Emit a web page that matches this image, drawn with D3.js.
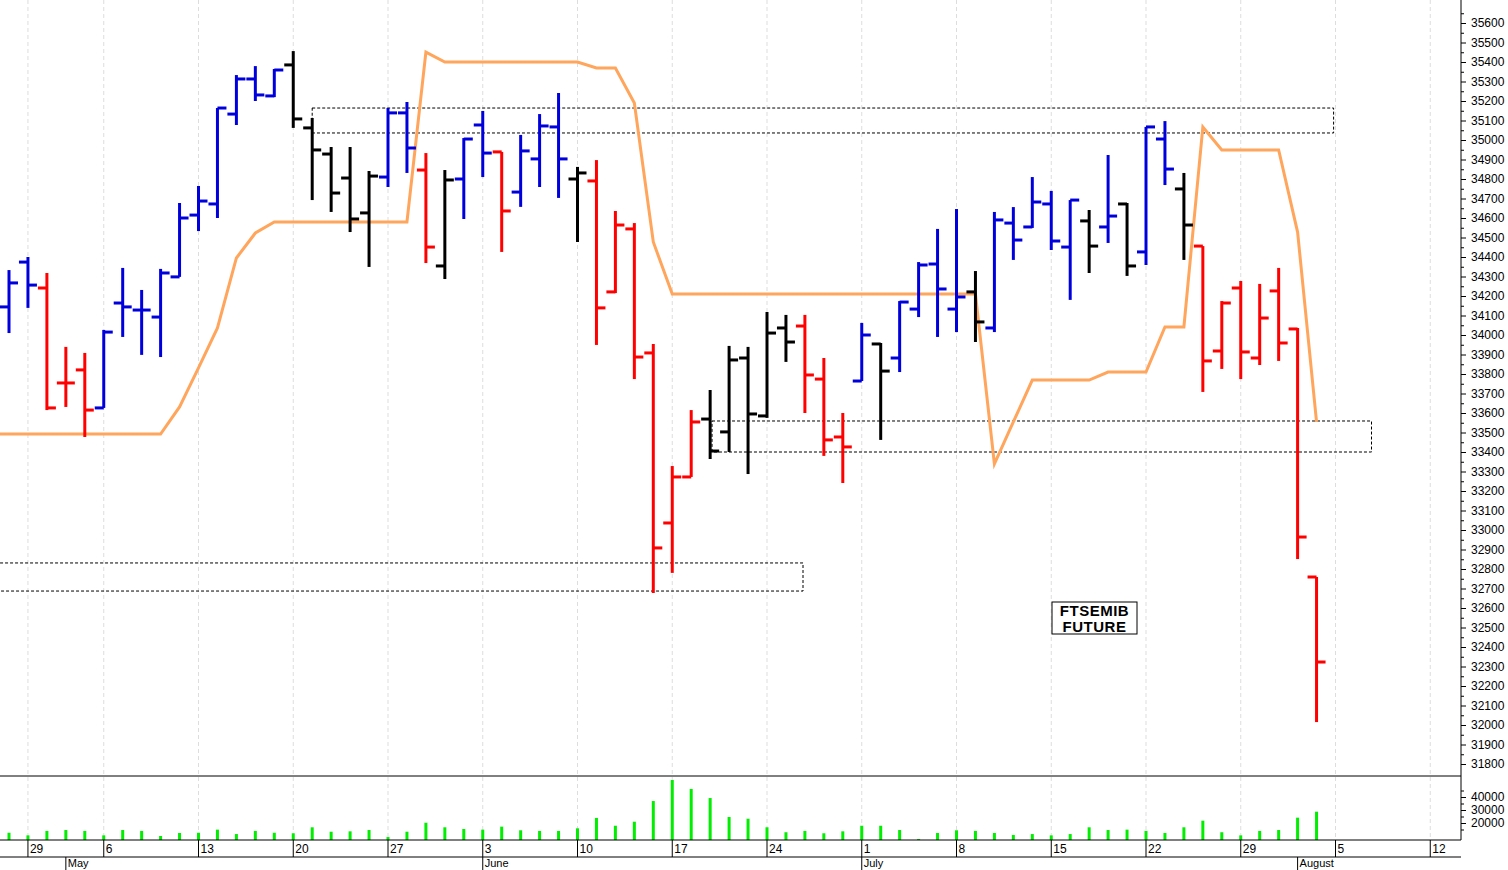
<!DOCTYPE html>
<html><head><meta charset="utf-8">
<script src="https://cdn.jsdelivr.net/npm/d3@7"></script>
<style>body{margin:0;background:#fff}svg{display:block}text{font-family:Arial,"Liberation Sans",sans-serif}</style>
</head><body><svg id="c" width="1508" height="870"></svg>
<script>
const opens=[34144,34374,34241,33754,33821,33626,34164,34128,34092,34298,34615,34672,35133,35313,35226,35385,35062,34928,34805,34626,34810,35139,34846,34354,34800,35077,34939,34733,34903,35067,34800,34790,34221,34544,33908,33036,33272,33569,33503,33882,33585,34036,34046,33774,33477,33764,33954,33882,34133,34364,34133,34221,34036,34574,34554,34672,34451,34585,34554,34672,34426,35005,34749,34456,33918,34241,33882,34226,34031,32759];
const highs=[34333,34400,34318,33939,33908,34026,34344,34231,34339,34677,34764,35164,35333,35379,35364,35456,35113,34964,34964,34841,35164,35195,34933,34846,35010,35149,34939,35026,35133,35241,34862,34897,34636,34574,33954,33328,33615,33718,33944,33939,34118,34103,34103,33882,33600,34062,33959,34174,34374,34544,34646,34328,34631,34656,34810,34739,34692,34641,34923,34677,35067,35097,34831,34456,34174,34277,34262,34344,34036,32759];
const lows=[34010,34139,33615,33631,33477,33626,33990,33898,33887,34298,34533,34600,35077,35200,35220,35062,34692,34631,34528,34349,34759,34831,34369,34287,34595,34810,34426,34657,34759,34703,34477,33949,34215,33774,32677,32780,33272,33364,33400,33287,33575,33862,33600,33380,33241,33764,33462,33810,34092,33990,34015,33964,34015,34385,34549,34436,34180,34318,34472,34303,34359,34769,34385,33708,33826,33774,33846,33867,32851,32015];
const closes=[34267,34256,33626,33754,33615,34015,34144,34128,34318,34600,34687,35164,35313,35231,35359,35108,34949,34728,34595,34815,35139,34959,34451,34795,35005,34933,34636,34944,35072,34903,34831,34139,34564,33887,32908,33272,33554,33405,33872,33595,34010,33964,33795,33462,33426,34000,33815,34169,34359,34236,34195,34067,34590,34487,34682,34482,34692,34456,34610,34354,35067,34851,34564,33867,34164,33913,34087,33959,32964,32323];
const trend="bbrrrbbbbbbbbbbkkkkkbbrkbbrbbbkrrrrrrkkkkkrrrbkbbbbkbbbbbkbkbbkrrrrrrr".split("");
const volumes=[12500,10500,13900,14600,13900,10500,14600,13900,10000,12300,12500,14900,11500,13900,12500,12100,16700,13300,13600,14600,9200,13300,20200,16700,15400,14900,17200,14400,13900,13900,15900,23900,17900,21000,36900,53100,46200,39200,24600,23300,16700,12900,13900,12100,13600,17900,17900,14600,7700,12300,14400,13900,12300,10800,11500,10500,11500,16700,14600,14900,13900,12300,16700,21800,12900,10500,13900,14600,24100,28700];
const stopLine=[33492,33492,33492,33492,33492,33492,33492,33492,33492,33631,33831,34036,34395,34523,34580,34580,34580,34580,34580,34580,34580,34580,35451,35400,35400,35400,35400,35400,35400,35400,35400,35369,35369,35190,34477,34210,34210,34210,34210,34210,34210,34210,34210,34210,34210,34210,34210,34210,34210,34210,34210,34210,33339,33554,33769,33769,33769,33769,33810,33810,33810,34041,34041,35067,34949,34949,34949,34949,34528,33554];
const weekTickIdx=[1,5,10,15,20,25,30,35,40,45,50,55,60,65,70,75];
const weekTickLabels=["29","6","13","20","27","3","10","17","24","1","8","15","22","29","5","12"];
const monthIdx=[3,25,45,68];
const monthLabels=["May","June","July","August"];
const boxes=[{x0:16,x1:69.9,top:35164,bot:35036},{x0:37.1,x1:71.9,top:33559,bot:33400},{x0:-1,x1:41.9,top:32831,bot:32687}];
const priceTicks=d3.range(31800,35601,100);
const volTicks=[20000,30000,40000];

const svg=d3.select("#c");
const W=1461;
const x=d3.scaleLinear().domain([0,69]).range([9,9+69*18.95]);
const y=d3.scaleLinear().domain([31800,35600]).range([764,23]);
const yv=d3.scaleLinear().domain([20000,40000]).range([823,797]);
const colors={b:"#0000dd",r:"#ff0000",k:"#000000"};

svg.append("g").selectAll("line").data(weekTickIdx).join("line")
 .attr("x1",d=>x(d)).attr("x2",d=>x(d)).attr("y1",0).attr("y2",840)
 .attr("stroke","#ddd").attr("stroke-dasharray","4,3");

svg.append("defs").append("clipPath").attr("id","cp").append("rect").attr("x",0).attr("y",0).attr("width",W).attr("height",776);
const main=svg.append("g").attr("clip-path","url(#cp)");

main.selectAll("rect.box").data(boxes).join("rect")
 .attr("x",d=>x(d.x0)).attr("width",d=>x(d.x1)-x(d.x0))
 .attr("y",d=>y(d.top)).attr("height",d=>y(d.bot)-y(d.top))
 .attr("fill","none").attr("stroke","#000").attr("stroke-width",1).attr("stroke-dasharray","3,2");

const pts=stopLine.map((v,i)=>[x(i),y(v)]);
pts.unshift([x(-1.5),y(stopLine[0])]);
main.append("path").attr("d",d3.line()(pts)).attr("fill","none").attr("stroke","#ffa55c").attr("stroke-width",3);

const bars=main.selectAll("g.bar").data(opens.map((o,i)=>({i,o,h:highs[i],l:lows[i],c:closes[i],t:trend[i]}))).join("g")
 .attr("stroke",d=>colors[d.t]).attr("stroke-width",3);
bars.append("line").attr("x1",d=>x(d.i)).attr("x2",d=>x(d.i)).attr("y1",d=>y(d.h)).attr("y2",d=>y(d.l));
bars.append("line").attr("x1",d=>x(d.i)-9).attr("x2",d=>x(d.i)).attr("y1",d=>y(d.o)).attr("y2",d=>y(d.o));
bars.append("line").attr("x1",d=>x(d.i)).attr("x2",d=>x(d.i)+9).attr("y1",d=>y(d.c)).attr("y2",d=>y(d.c));

svg.append("rect").attr("x",1052).attr("y",602).attr("width",85).attr("height",32).attr("fill","#fff").attr("stroke","#000");
svg.append("text").attr("x",1094.5).attr("y",616).attr("text-anchor","middle").attr("font-size",15).attr("font-weight","bold").attr("fill","#000").attr("letter-spacing",0.5).text("FTSEMIB");
svg.append("text").attr("x",1094.5).attr("y",632).attr("text-anchor","middle").attr("font-size",15).attr("font-weight","bold").attr("fill","#000").attr("letter-spacing",0.5).text("FUTURE");

svg.append("g").selectAll("line").data(volumes).join("line")
 .attr("x1",(d,i)=>x(i)).attr("x2",(d,i)=>x(i)).attr("y1",840).attr("y2",d=>yv(d))
 .attr("stroke","#00ee00").attr("stroke-width",3);

svg.append("line").attr("x1",0).attr("x2",W).attr("y1",776).attr("y2",776).attr("stroke","#000");
svg.append("line").attr("x1",0).attr("x2",W).attr("y1",840).attr("y2",840).attr("stroke","#000");
svg.append("line").attr("x1",0).attr("x2",W).attr("y1",857).attr("y2",857).attr("stroke","#000");
svg.append("line").attr("x1",W).attr("x2",W).attr("y1",0).attr("y2",840).attr("stroke","#000");

const pa=svg.append("g").attr("transform",`translate(${W},0)`)
 .call(d3.axisRight(y).tickValues(priceTicks).tickSize(5).tickPadding(5).tickFormat(d3.format("d")));
pa.select(".domain").remove();
pa.selectAll("text").attr("font-size",12).attr("fill","#000");
svg.append("g").attr("transform",`translate(${W},0)`)
 .call(d3.axisRight(y).tickValues(d3.range(31850,35700,100)).tickSize(3).tickFormat(""))
 .select(".domain").remove();
const va=svg.append("g").attr("transform",`translate(${W},0)`)
 .call(d3.axisRight(yv).tickValues(volTicks).tickSize(5).tickPadding(5).tickFormat(d3.format("d")));
va.select(".domain").remove();
va.selectAll("text").attr("font-size",12).attr("fill","#000");
svg.append("g").attr("transform",`translate(${W},0)`)
 .call(d3.axisRight(yv).tickValues([15000,25000,35000,45000]).tickSize(3).tickFormat("")).select(".domain").remove();

const dg=svg.append("g").selectAll("g").data(weekTickIdx).join("g");
dg.append("line").attr("x1",d=>x(d)).attr("x2",d=>x(d)).attr("y1",840).attr("y2",857).attr("stroke","#000");
dg.append("text").attr("x",d=>x(d)+2).attr("y",853).attr("font-size",12).attr("fill","#000").text((d,i)=>weekTickLabels[i]);
const mg=svg.append("g").selectAll("g").data(monthIdx).join("g");
mg.append("line").attr("x1",d=>x(d)).attr("x2",d=>x(d)).attr("y1",857).attr("y2",870).attr("stroke","#000");
mg.append("text").attr("x",d=>x(d)+2).attr("y",867).attr("font-size",11).attr("fill","#000").text((d,i)=>monthLabels[i]);
</script></body></html>
